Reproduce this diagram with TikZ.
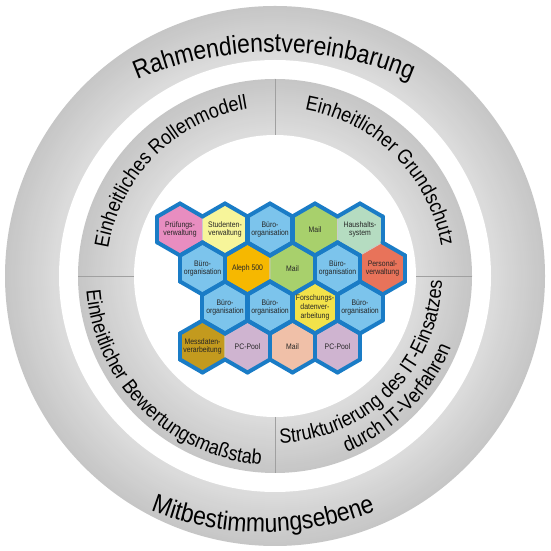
\documentclass[tikz,border=0pt]{standalone}
\usepackage{fontspec}
\setmainfont{Liberation Sans}
\newfontfamily\hexfont[FakeStretch=0.86]{Liberation Sans}
\newfontfamily\ringfont[FakeStretch=0.88]{Liberation Sans}
\usetikzlibrary{decorations.text,calc}
\definecolor{ringdark}{HTML}{C6C6C6}
\definecolor{ringlight}{HTML}{DDDDDD}
\definecolor{divgray}{HTML}{A0A0A0}
\definecolor{hexblue}{HTML}{1A7CC6}
\definecolor{cpink}{HTML}{E88DC0}
\definecolor{cyell}{HTML}{F7F59A}
\definecolor{cblue}{HTML}{7CC4EC}
\definecolor{cgreen}{HTML}{A8D06C}
\definecolor{cmint}{HTML}{B5DCC1}
\definecolor{cred}{HTML}{E8735A}
\definecolor{corange}{HTML}{F6B800}
\definecolor{cyellow}{HTML}{F2E24A}
\definecolor{cgold}{HTML}{C39A1E}
\definecolor{clilac}{HTML}{CFB4D0}
\definecolor{cpeach}{HTML}{F0C0A8}
\newcommand{\hexR}{26}
\newcommand{\hexfill}[2]{\fill[#2] ($(#1)+(30:\hexR)$) -- ($(#1)+(90:\hexR)$) -- ($(#1)+(150:\hexR)$) -- ($(#1)+(210:\hexR)$) -- ($(#1)+(270:\hexR)$) -- ($(#1)+(330:\hexR)$) -- cycle;
\draw[thinedge] ($(#1)+(30:\hexR)$) -- ($(#1)+(90:\hexR)$) -- ($(#1)+(150:\hexR)$) -- ($(#1)+(210:\hexR)$) -- ($(#1)+(270:\hexR)$) -- ($(#1)+(330:\hexR)$) -- cycle;}
\newcommand{\hexedges}[2]{\foreach \k in {#2} {\draw[hexborder] ($(#1)+(60*\k-30:\hexR)$) -- ($(#1)+(60*\k+30:\hexR)$);}}
\newcommand{\outerfont}{\ringfont\fontsize{26}{30}\selectfont}
\newcommand{\innerfont}{\ringfont\fontsize{20.5}{24}\selectfont}
\begin{document}
\begin{tikzpicture}[x=1pt,y=1pt,
  hexborder/.style={draw=hexblue,line width=4pt,line cap=round},
  thinedge/.style={draw=gray!40,line width=0.6pt},
  hextext/.style={font=\hexfont\fontsize{8}{8.6}\selectfont,align=center,text=black!85,inner sep=0pt},
  divider/.style={draw=divgray,line width=0.8pt}]
\useasboundingbox (0,0) rectangle (550,551);
\fill[white] (0,0) rectangle (550,551);
\coordinate (O) at (275,275);
% outer ring with soft radial gradient
\foreach \i in {0,...,27} {
  \pgfmathsetmacro{\rr}{270-2*\i}
  \pgfmathtruncatemacro{\pp}{100-\i*100/27}
  \fill[ringdark!\pp!ringlight] (O) circle[radius=\rr];
}
\fill[white] (O) circle[radius=216];
% inner band with soft radial gradient
\foreach \i in {0,...,28} {
  \pgfmathsetmacro{\rr}{197-2*\i}
  \pgfmathtruncatemacro{\pp}{100-\i*100/28}
  \fill[ringdark!\pp!ringlight] (O) circle[radius=\rr];
}
\fill[white] (O) circle[radius=141];
\coordinate (dN1) at ($(O)+(90:141)$); \coordinate (dN2) at ($(O)+(90:197)$);
\coordinate (dS1) at ($(O)+(270:141)$); \coordinate (dS2) at ($(O)+(270:197)$);
\coordinate (dW1) at ($(O)+(180:141)$); \coordinate (dW2) at ($(O)+(180:197)$);
\coordinate (dE1) at ($(O)+(0:141)$); \coordinate (dE2) at ($(O)+(0:197)$);
\draw[divider] (dN1) -- (dN2);
\draw[divider] (dS1) -- (dS2);
\draw[divider] (dW1) -- (dW2);
\draw[divider] (dE1) -- (dE2);
% outer texts (flatter arcs)
\coordinate (Ct) at (274,149);
\coordinate (Cb) at (263,326);
\path[decorate,decoration={text along path,text align=center,text={|\outerfont|Rahmendienstvereinbarung}}]
  ($(Ct)+(125:350)$) arc[start angle=125,end angle=55,radius=350];
\path[decorate,decoration={text along path,text align=center,text={|\outerfont|Mitbestimmungsebene}}]
  ($(Cb)+(232:307)$) arc[start angle=232,end angle=308,radius=307];
% inner texts
\path[decorate,decoration={text along path,text align=center,text={|\innerfont|Einheitliches Rollenmodell}}]
  ($(O)+(180:169)$) arc[start angle=180,end angle=90,radius=169];
\path[decorate,decoration={text along path,text align=center,text={|\innerfont|Einheitlicher Grundschutz}}]
  ($(O)+(90:169)$) arc[start angle=90,end angle=0,radius=169];
\path[decorate,decoration={text along path,text align=center,text={|\innerfont|Einheitlicher Bewertungsmaßstab}}]
  ($(O)+(180:189)$) arc[start angle=180,end angle=270,radius=189];
\path[decorate,decoration={text along path,text align=center,text={|\innerfont|Strukturierung des IT-Einsatzes}}]
  ($(O)+(270:167)$) arc[start angle=270,end angle=360,radius=167];
\path[decorate,decoration={text along path,text align=center,text={|\innerfont|durch IT-Verfahren}}]
  ($(O)+(270:190)$) arc[start angle=270,end angle=360,radius=190];
% hexagon centres
\coordinate (A1) at (180,321.5); \coordinate (A2) at (225,321.5); \coordinate (A3) at (270,321.5);
\coordinate (A4) at (315,321.5); \coordinate (A5) at (360,321.5);
\coordinate (B1) at (202.5,282.5); \coordinate (B2) at (247.5,282.5); \coordinate (B3) at (292.5,282.5);
\coordinate (B4) at (337.5,282.5); \coordinate (B5) at (382.5,282.5);
\coordinate (C1) at (225,243.5); \coordinate (C2) at (270,243.5); \coordinate (C3) at (315,243.5);
\coordinate (C4) at (360,243.5);
\coordinate (D1) at (202.5,204.5); \coordinate (D2) at (247.5,204.5); \coordinate (D3) at (292.5,204.5);
\coordinate (D4) at (337.5,204.5);
% fills
\hexfill{A1}{cpink} \hexfill{A2}{cyell} \hexfill{A3}{cblue} \hexfill{A4}{cgreen} \hexfill{A5}{cmint}
\hexfill{B1}{cblue} \hexfill{B2}{corange} \hexfill{B3}{cgreen} \hexfill{B4}{cblue} \hexfill{B5}{cred}
\hexfill{C1}{cblue} \hexfill{C2}{cblue} \hexfill{C3}{cyellow} \hexfill{C4}{cblue}
\hexfill{D1}{cgold} \hexfill{D2}{clilac} \hexfill{D3}{cpeach} \hexfill{D4}{clilac}
% thick borders (k: 0 right, 1 upper right, 2 upper left, 3 left, 4 lower left, 5 lower right)
\hexedges{A1}{1,2,3,4,5} \hexedges{A2}{0,1,2,4,5} \hexedges{A3}{0,1,2,3,4,5}
\hexedges{A4}{1,2,3,4,5} \hexedges{A5}{0,1,2,4}
\hexedges{B1}{0,1,2,3,4,5} \hexedges{B2}{1,2,3,4,5} \hexedges{B3}{0,1,2,4,5}
\hexedges{B4}{0,1,2,3,4,5} \hexedges{B5}{0,1,3,4,5}
\hexedges{C1}{0,1,2,3,4,5} \hexedges{C2}{0,1,2,3,4,5} \hexedges{C3}{0,1,2,3,4,5} \hexedges{C4}{0,1,2,3,4,5}
\hexedges{D1}{1,2,3,4,5} \hexedges{D2}{0,1,2,4,5} \hexedges{D3}{0,1,2,3,4,5} \hexedges{D4}{0,1,2,3,4,5}
% labels
\node[hextext] (tA1) at (A1) {Prüfungs-\\verwaltung};
\node[hextext] (tA2) at (A2) {Studenten-\\verwaltung};
\node[hextext] (tA3) at (A3) {Büro-\\organisation};
\node[hextext] (tA4) at (A4) {Mail};
\node[hextext] (tA5) at (A5) {Haushalts-\\system};
\node[hextext] (tB1) at (B1) {Büro-\\organisation};
\node[hextext] (tB2) at (B2) {Aleph 500};
\node[hextext] (tB3) at (B3) {Mail};
\node[hextext] (tB4) at (B4) {Büro-\\organisation};
\node[hextext] (tB5) at (B5) {Personal-\\verwaltung};
\node[hextext] (tC1) at (C1) {Büro-\\organisation};
\node[hextext] (tC2) at (C2) {Büro-\\organisation};
\node[hextext] (tC3) at (C3) {Forschungs-\\datenver-\\arbeitung};
\node[hextext] (tC4) at (C4) {Büro-\\organisation};
\node[hextext] (tD1) at (D1) {Messdaten-\\verarbeitung};
\node[hextext] (tD2) at (D2) {PC-Pool};
\node[hextext] (tD3) at (D3) {Mail};
\node[hextext] (tD4) at (D4) {PC-Pool};
\end{tikzpicture}
\end{document}
